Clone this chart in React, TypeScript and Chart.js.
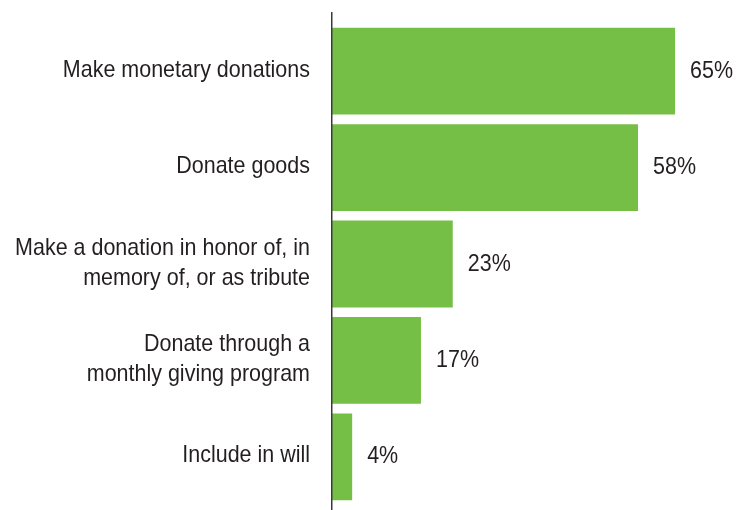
import React, { useEffect, useRef } from "react";
import { Chart, registerables } from "chart.js";

Chart.register(...registerables);

const categories: string[][] = [
  ["Make monetary donations"],
  ["Donate goods"],
  ["Make a donation in honor of, in", "memory of, or as tribute"],
  ["Donate through a", "monthly giving program"],
  ["Include in will"],
];
const values: number[] = [65, 58, 23, 17, 4];
const valueLabels: string[] = ["65%", "58%", "23%", "17%", "4%"];

const FONT = "'Liberation Sans', Arial, sans-serif";
const FONT_SIZE = 24;
const SQUEEZE = 0.895;
const LINE_H = 30;
const TEXT = "#231f20";
const GREEN = "#76bf46";

function drawSqueezed(ctx: CanvasRenderingContext2D, text: string, x: number, y: number, align: "left" | "right") {
  ctx.save();
  ctx.translate(x, y);
  ctx.scale(SQUEEZE, 1);
  ctx.textAlign = align;
  ctx.fillText(text, 0, 0);
  ctx.restore();
}

const textPlugin = {
  id: "texts",
  afterDatasetsDraw(chart: any) {
    const { ctx, chartArea, scales } = chart;
    const x0 = scales.x.getPixelForValue(0);
    // axis line
    ctx.save();
    ctx.strokeStyle = "#3a3a3a";
    ctx.lineWidth = 1.5;
    ctx.beginPath();
    ctx.moveTo(x0 + 0.75, chartArea.top - 11);
    ctx.lineTo(x0 + 0.75, chartArea.bottom + 5);
    ctx.stroke();
    ctx.restore();

    ctx.save();
    ctx.fillStyle = TEXT;
    ctx.font = `${FONT_SIZE}px ${FONT}`;
    ctx.textBaseline = "middle";
    // category labels
    categories.forEach((lines, i) => {
      const yc = scales.y.getPixelForValue(i) - 1;
      const start = yc - ((lines.length - 1) * LINE_H) / 2;
      lines.forEach((line, j) => {
        drawSqueezed(ctx, line, x0 - 21, start + j * LINE_H, "right");
      });
    });
    // value labels
    const meta = chart.getDatasetMeta(0);
    meta.data.forEach((bar: any, i: number) => {
      drawSqueezed(ctx, valueLabels[i], bar.x + 15, bar.y, "left");
    });
    ctx.restore();
  },
};

export default function App() {
  const ref = useRef<HTMLCanvasElement>(null);
  useEffect(() => {
    if (!ref.current) return;
    const chart = new Chart(ref.current, {
      type: "bar",
      data: {
        labels: categories.map((c) => c.join(" ")),
        datasets: [
          {
            data: values,
            backgroundColor: GREEN,
            borderWidth: 0,
            barPercentage: 0.9,
            categoryPercentage: 1,
          },
        ],
      },
      options: {
        indexAxis: "y",
        animation: false,
        responsive: false,
        maintainAspectRatio: false,
        layout: { padding: { top: 23, bottom: 5, right: 19, left: 331 } },
        plugins: { legend: { display: false }, tooltip: { enabled: false } },
        scales: {
          x: { min: 0, max: 75, display: false },
          y: { display: false },
        },
      },
      plugins: [textPlugin],
    });
    return () => chart.destroy();
  }, []);
  return (
    <div style={{ position: "absolute", left: 0, top: 0, width: 747, height: 510 }}>
      <canvas ref={ref} width={747} height={510} style={{ width: 747, height: 510 }} />
    </div>
  );
}
